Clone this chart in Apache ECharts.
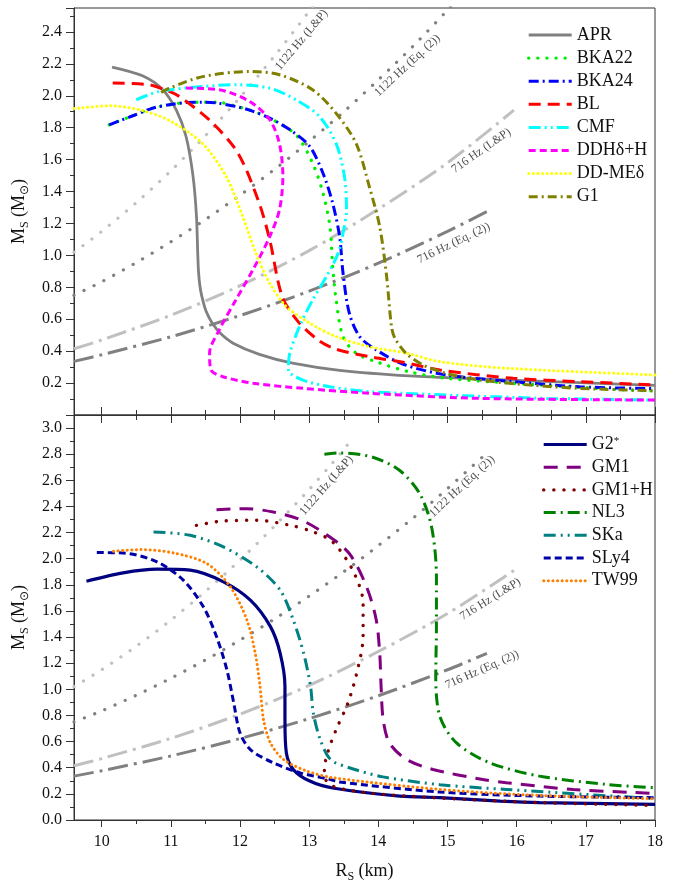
<!DOCTYPE html>
<html><head><meta charset="utf-8">
<script src="https://cdn.jsdelivr.net/npm/echarts@6/dist/echarts.min.js"></script>
<style>html,body{margin:0;padding:0;background:#fff}#c{width:678px;height:884px}</style>
</head><body><div id="c"></div>
<script>
// ---------- tick values ----------
const xMajorValues = [10,11,12,13,14,15,16,17,18];
const xMinorValues = [10.5,11.5,12.5,13.5,14.5,15.5,16.5,17.5];

// ---------- reference (spin frequency) curves, [R, M] ----------
const ref1122LP = [[9.6,1.02],[10,1.15],[10.5,1.33],[11,1.53],[11.5,1.75],[12,1.99],[12.5,2.25],[13,2.53],[13.3,2.71],[13.63,2.92]];
const ref1122EQ = [[9.6,0.75],[10,0.835],[10.5,0.955],[11,1.085],[11.5,1.225],[12,1.377],[12.5,1.539],[13,1.714],[13.5,1.90],[14,2.10],[14.5,2.31],[15,2.537],[15.5,2.776]];
const ref716LP = [[9.6,0.415],[10,0.47],[11,0.625],[12,0.81],[13,1.03],[14,1.29],[15,1.58],[15.96,1.91]];
const ref716EQ = [[9.6,0.336],[10,0.377],[11,0.49],[12,0.623],[13,0.776],[14,0.951],[15,1.15],[15.57,1.275]];

// label anchors [R, M, angle]
const refNames = ['1122 Hz (L&P)','1122 Hz (Eq. (2))','716 Hz (L&P)','716 Hz (Eq. (2))'];
const topLabelPos = [[12.89,2.35,50],[14.42,2.19,43],[15.49,1.656,35],[15.09,1.076,26]];
const botLabelPos = [[13.25,2.56,49],[15.21,2.553,43],[15.62,1.69,32],[15.50,1.15,24]];

// ---------- top panel EOS ----------
const APR = [[10.15,2.18],[10.59,2.125],[10.88,2.04],[11.08,1.91],[11.22,1.745],[11.32,1.50],[11.37,1.25],[11.39,1.0],[11.40,0.9],[11.42,0.81],[11.45,0.74],[11.51,0.65],[11.60,0.575],[11.72,0.51],[11.90,0.45],[12.28,0.38],[12.76,0.325],[13.44,0.28],[14.45,0.245],[15.47,0.226],[16.91,0.203],[18,0.185]];
const BKA22 = [[10.11,1.818],[10.45,1.875],[10.74,1.923],[11.0,1.945],[11.22,1.958],[11.46,1.960],[11.66,1.960],[11.94,1.935],[12.14,1.91],[12.43,1.86],[12.81,1.755],[13.05,1.578],[13.20,1.39],[13.30,1.18],[13.34,0.93],[13.39,0.721],[13.49,0.491],[13.68,0.387],[14.02,0.326],[14.45,0.27],[14.98,0.23],[15.95,0.199],[17.40,0.161],[18,0.15]];
const BKA24 = [[10.11,1.818],[10.45,1.875],[10.74,1.923],[11.0,1.945],[11.22,1.958],[11.46,1.960],[11.66,1.955],[11.94,1.933],[12.14,1.91],[12.43,1.86],[12.76,1.776],[13.01,1.682],[13.20,1.515],[13.34,1.327],[13.44,1.118],[13.49,0.888],[13.58,0.638],[13.73,0.491],[13.97,0.408],[14.36,0.318],[14.98,0.251],[15.95,0.209],[16.91,0.177],[18,0.165]];
const BL = [[10.16,2.08],[10.69,2.069],[10.9,2.04],[11.10,2.002],[11.58,1.839],[11.97,1.641],[12.27,1.337],[12.43,1.097],[12.61,0.742],[12.84,0.585],[13.13,0.47],[13.39,0.412],[13.87,0.366],[14.36,0.33],[14.89,0.282],[15.95,0.23],[16.91,0.209],[18,0.188]];
const CMF = [[10.50,1.975],[10.83,2.027],[11.46,2.058],[11.94,2.069],[12.43,2.048],[12.81,1.975],[13.15,1.87],[13.39,1.70],[13.51,1.494],[13.54,1.285],[13.49,1.139],[13.42,1.014],[13.25,0.867],[13.05,0.721],[12.86,0.554],[12.72,0.387],[12.70,0.282],[12.91,0.219],[13.30,0.177],[13.87,0.146],[14.36,0.136],[14.98,0.125],[16.43,0.104],[18,0.094]];
const DDH = [[11.22,2.048],[11.70,2.038],[12.14,1.964],[12.43,1.85],[12.57,1.70],[12.62,1.494],[12.57,1.285],[12.43,1.118],[12.20,0.92],[11.94,0.721],[11.70,0.533],[11.56,0.387],[11.58,0.282],[11.75,0.24],[12.19,0.199],[12.91,0.167],[13.87,0.136],[15.47,0.104],[18,0.094]];
const DDME = [[9.6,1.92],[9.68,1.923],[10.11,1.937],[10.55,1.912],[10.98,1.845],[11.46,1.70],[11.80,1.494],[12.04,1.243],[12.23,1.014],[12.43,0.826],[12.67,0.679],[13.01,0.575],[13.39,0.491],[13.87,0.428],[14.41,0.387],[14.89,0.334],[15.85,0.293],[18,0.251]];
const G1 = [[10.86,2.02],[10.98,2.048],[11.46,2.12],[12.14,2.152],[12.57,2.132],[13.05,2.038],[13.39,1.89],[13.68,1.70],[13.87,1.43],[14.02,1.18],[14.12,0.867],[14.19,0.554],[14.24,0.48],[14.40,0.387],[14.65,0.313],[14.98,0.261],[15.47,0.219],[16.19,0.188],[16.91,0.167],[18,0.152]];

// ---------- bottom panel EOS ----------
const G2s = [[9.78,1.828],[10.31,1.892],[10.80,1.92],[11.28,1.912],[11.76,1.823],[12.15,1.683],[12.44,1.48],[12.58,1.277],[12.65,1.022],[12.65,0.768],[12.67,0.514],[12.77,0.387],[13.0,0.30],[13.34,0.245],[14.31,0.183],[14.89,0.171],[15.76,0.145],[16.33,0.133],[18,0.12]];
const GM1 = [[11.66,2.375],[12.10,2.383],[12.48,2.357],[12.87,2.30],[13.25,2.185],[13.58,2.04],[13.83,1.785],[13.97,1.531],[14.02,1.277],[14.04,1.022],[14.07,0.768],[14.16,0.59],[14.41,0.463],[14.79,0.387],[15.51,0.31],[15.85,0.285],[16.82,0.234],[18,0.204]];
const GM1H = [[11.37,2.255],[11.76,2.289],[12.24,2.294],[12.73,2.255],[13.06,2.205],[13.34,2.128],[13.63,1.912],[13.78,1.658],[13.78,1.404],[13.70,1.15],[13.56,0.895],[13.39,0.692],[13.27,0.52],[13.22,0.387],[13.22,0.336],[13.34,0.259],[13.83,0.209],[14.79,0.171],[16.33,0.133],[18,0.112]];
const NL3 = [[13.22,2.80],[13.44,2.81],[13.92,2.777],[14.31,2.675],[14.60,2.497],[14.77,2.243],[14.84,1.861],[14.84,1.48],[14.83,1.098],[14.89,0.793],[15.13,0.59],[15.61,0.438],[16.33,0.336],[17.30,0.272],[18,0.247]];
const SKa = [[10.75,2.205],[11.28,2.179],[11.76,2.09],[12.24,1.938],[12.58,1.76],[12.77,1.531],[12.92,1.277],[13.02,1.022],[13.06,0.819],[13.16,0.616],[13.31,0.463],[13.58,0.40],[14.07,0.33],[14.89,0.27],[15.85,0.234],[18,0.163]];
const SLy4 = [[9.93,2.047],[10.31,2.044],[10.80,1.976],[11.18,1.836],[11.47,1.632],[11.66,1.404],[11.81,1.15],[11.91,0.895],[12.0,0.667],[12.15,0.539],[12.48,0.438],[12.87,0.361],[13.31,0.31],[13.44,0.29],[14.89,0.214],[16.33,0.183],[18,0.171]];
const TW99 = [[10.17,2.057],[10.56,2.07],[11.04,2.044],[11.52,1.963],[11.86,1.785],[12.10,1.531],[12.22,1.277],[12.29,1.022],[12.34,0.768],[12.44,0.59],[12.63,0.463],[12.97,0.374],[13.35,0.323],[14.89,0.234],[16.33,0.188],[18,0.163]];

const topNames = ['APR','BKA22','BKA24','BL','CMF','DDHδ+H','DD-MEδ','G1'];
const botNames = ['G2*','GM1','GM1+H','NL3','SKa','SLy4','TW99'];

const FONT = 'Liberation Serif, Times New Roman, serif';
const AX = '#333';

function line(name, data, grid, color, dash, width, cap) {
  return {
    name: name, type: 'line', data: data, xAxisIndex: grid === 0 ? 0 : 1, yAxisIndex: grid,
    showSymbol: false, symbol: 'none', smooth: 0.3, clip: true, silent: true,
    lineStyle: {color: color, width: width, type: dash, cap: cap || 'butt'},
    itemStyle: {color: color}
  };
}
function refs(grid) {
  return [
    line('r1_' + grid, ref1122LP, grid, '#c0c0c0', [0.1, 11], 3.2, 'round'),
    line('r2_' + grid, ref1122EQ, grid, '#808080', [0.1, 11], 3.2, 'round'),
    line('r3_' + grid, ref716LP, grid, '#c0c0c0', [20, 6, 3, 6], 3, 'butt'),
    line('r4_' + grid, ref716EQ, grid, '#808080', [20, 6, 3, 6], 3, 'butt')
  ];
}
function labels(grid, pos) {
  return {
    type: 'scatter', name: 'lbl_' + grid, xAxisIndex: grid === 0 ? 0 : 1, yAxisIndex: grid,
    symbolSize: 0, silent: true,
    data: pos.map((p, i) => ({name: refNames[i], value: [p[0], p[1]], label: {rotate: p[2]}})),
    label: {show: true, position: 'inside', formatter: '{b}', fontSize: 12, fontFamily: FONT, color: '#222'}
  };
}

const series = [].concat(
  refs(0), refs(1),
  [
    line('APR', APR, 0, '#808080', 'solid', 2.8),
    line('BKA22', BKA22, 0, '#00ee00', [0.1, 9], 3.4, 'round'),
    line('BKA24', BKA24, 0, '#0000ff', [10, 4, 2, 4], 3),
    line('BL', BL, 0, '#ff0000', [12, 7], 3),
    line('CMF', CMF, 0, '#00ffff', [12, 4, 2, 4, 2, 4], 3),
    line('DDHδ+H', DDH, 0, '#ff00ff', [7, 4], 3),
    line('DD-MEδ', DDME, 0, '#ffff00', [0.1, 4.5], 3, 'round'),
    line('G1', G1, 0, '#808000', [9, 4, 2, 4], 3),
    line('G2*', G2s, 1, '#000080', 'solid', 3.2),
    line('GM1', GM1, 1, '#800080', [14, 9], 3),
    line('GM1+H', GM1H, 1, '#800000', [0.1, 10], 3.4, 'round'),
    line('NL3', NL3, 1, '#008000', [12, 5, 2, 5], 3),
    line('SKa', SKa, 1, '#008080', [12, 5, 2, 5, 2, 5], 3),
    line('SLy4', SLy4, 1, '#0000a8', [7, 4], 3),
    line('TW99', TW99, 1, '#ff8000', [0.1, 4.5], 3, 'round')
  ],
  [labels(0, topLabelPos), labels(1, botLabelPos)]
);

const nameRich = {
  m: {fontSize: 18, fontFamily: FONT, color: '#111', lineHeight: 24},
  s: {fontSize: 12, fontFamily: FONT, color: '#111', lineHeight: 24, verticalAlign: 'bottom'}
};

function yAxis(grid, max, lastLabel) {
  return {
    gridIndex: grid, type: 'value', min: 0, max: max, interval: 0.2,
    axisLine: {show: true, lineStyle: {color: AX, width: 1}},
    axisTick: {show: true, inside: false, length: 8, lineStyle: {color: AX}},
    minorTick: {show: true, splitNumber: 2, length: 4, lineStyle: {color: AX}},
    splitLine: {show: false}, minorSplitLine: {show: false},
    axisLabel: {fontSize: 16, fontFamily: FONT, color: '#111', margin: 12,
      formatter: v => (grid === 0 ? (v > 0.05 && v < lastLabel + 0.01) : (v < lastLabel + 0.01)) ? v.toFixed(1) : ''},
    name: '{m|M}{s|S}{m| (M}{s|⊙}{m|)}', nameLocation: 'middle', nameGap: 33, nameRotate: 90,
    nameTextStyle: {rich: nameRich}
  };
}
function xAxis(grid, pos, inside, values, len, showLabel, withName) {
  const a = {
    gridIndex: grid, type: 'value', min: 9.6, max: 18, position: pos,
    axisLine: {show: true, onZero: false, lineStyle: {color: AX, width: 1}},
    axisTick: {show: true, inside: inside, length: len, customValues: values, lineStyle: {color: AX}},
    splitLine: {show: false},
    axisLabel: {show: showLabel, customValues: xMajorValues, fontSize: 16, fontFamily: FONT, color: '#111', margin: 14}
  };
  if (withName) {
    a.name = '{m|R}{s|S}{m| (km)}';
    a.nameLocation = 'middle';
    a.nameGap = 39;
    a.nameTextStyle = {rich: nameRich};
  }
  return a;
}

const legendText = {fontSize: 18, fontFamily: FONT, color: '#111', lineHeight: 18,
  rich: {n: {fontSize: 18, fontFamily: FONT, color: '#111'}, sup: {fontSize: 11, fontFamily: FONT, color: '#111', verticalAlign: 'top'}}};
const legendItemStyle = {color: 'rgba(0,0,0,0)', borderWidth: 0, opacity: 0};
const legendLineStyle = {width: 'inherit'};

const option = {
  animation: false,
  backgroundColor: '#fff',
  grid: [
    {left: 74, right: 23, top: 8, height: 407, show: true, borderColor: AX, borderWidth: 1, backgroundColor: 'transparent'},
    {left: 74, right: 23, top: 415, height: 405.7, show: true, borderColor: AX, borderWidth: 1, backgroundColor: 'transparent'}
  ],
  xAxis: [
    xAxis(0, 'bottom', true, xMajorValues, 8, false, false),
    xAxis(1, 'bottom', false, xMajorValues, 7, true, true),
    xAxis(1, 'top', true, xMajorValues, 8, false, false),
    xAxis(0, 'bottom', true, xMinorValues, 5, false, false),
    xAxis(1, 'bottom', false, xMinorValues, 4, false, false),
    xAxis(1, 'top', true, xMinorValues, 5, false, false)
  ],
  yAxis: [yAxis(0, 2.55, 2.4), yAxis(1, 3.1, 3.0)],
  legend: [
    {data: topNames, orient: 'vertical', left: 527, top: 26, padding: 0, itemWidth: 43, itemHeight: 14, itemGap: 5.1,
      textStyle: legendText, itemStyle: legendItemStyle, lineStyle: legendLineStyle, selectedMode: false},
    {data: botNames, orient: 'vertical', left: 542, top: 435.5, padding: 0, itemWidth: 43, itemHeight: 14, itemGap: 4.7,
      textStyle: legendText, itemStyle: legendItemStyle, lineStyle: legendLineStyle, selectedMode: false,
      formatter: n => n === 'G2*' ? '{n|G2}{sup|*}' : n}
  ],
  series: series
};

const chart = echarts.init(document.getElementById('c'), null, {renderer: 'canvas'});
chart.setOption(option);
</script>
</body></html>
